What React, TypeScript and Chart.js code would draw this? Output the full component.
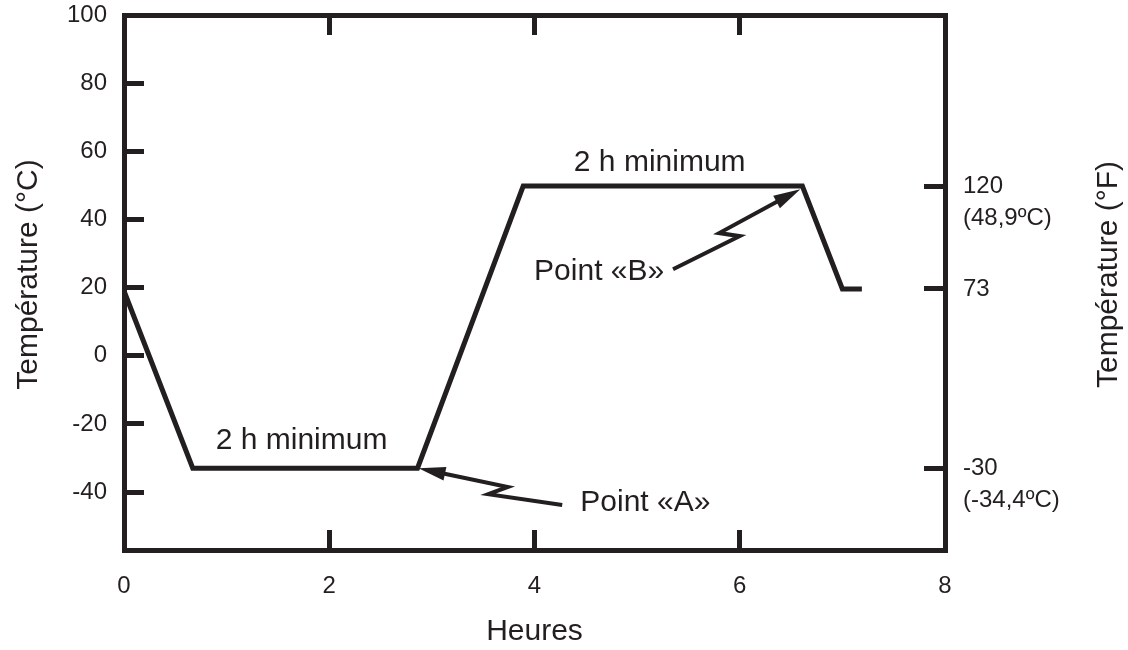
import React, { useEffect, useRef } from "react";
import { Chart, registerables } from "chart.js";

Chart.register(...registerables);

// ---- data ----
const hours = [0, 0.67, 2.86, 3.89, 6.61, 7.0, 7.19];
const tempC = [19, -33, -33, 49.8, 49.8, 19.6, 19.6];

const bottomTicks = [0, 2, 4, 6, 8];
const topTicks = [2, 4, 6];
const leftTicks = [-40, -20, 0, 20, 40, 60, 80, 100];
const rightTickValues = [49.8, 19.6, -33];
const rightTickLabels = [["", "120", "(48,9ºC)"], ["73"], ["", "-30", "(-34,4ºC)"]];

const noteTexts = ["2 h minimum", "2 h minimum", "Point «B»", "Point «A»"];
const noteX = [5.22, 1.73, 4.63, 5.08];
const noteY = [56.6, -25.0, 24.6, -43.1];

const arrowAX = [4.27, 3.55, 3.74, 2.87];
const arrowAY = [-43.8, -40.6, -38.5, -33.0];
const arrowBX = [5.35, 6.0, 5.8, 6.59];
const arrowBY = [25.4, 35.1, 36.0, 48.9];

const xTitle = "Heures";
const yLeftTitle = "Température (°C)";
const yRightTitle = "Température (°F)";

const INK = "#231f20";
const FAMILY = '"Liberation Sans", Arial, sans-serif';

const zeroPad = (s: any) => {
  s.paddingTop = 0;
  s.paddingBottom = 0;
  s.paddingLeft = 0;
  s.paddingRight = 0;
};

const overlayPlugin = {
  id: "overlay",
  afterDraw(chart: any) {
    const { ctx, scales } = chart;
    const x = scales.x;
    const y = scales.y;
    ctx.save();
    ctx.fillStyle = INK;
    ctx.strokeStyle = INK;
    ctx.font = `30px ${FAMILY}`;
    ctx.textAlign = "center";
    ctx.textBaseline = "middle";
    noteTexts.forEach((t, i) => {
      ctx.fillText(t, x.getPixelForValue(noteX[i]), y.getPixelForValue(noteY[i]));
    });

    const drawArrow = (xs: number[], ys: number[]) => {
      const px = xs.map((v) => x.getPixelForValue(v));
      const py = ys.map((v) => y.getPixelForValue(v));
      const n = px.length;
      const dx = px[n - 1] - px[n - 2];
      const dy = py[n - 1] - py[n - 2];
      const len = Math.hypot(dx, dy);
      const ux = dx / len;
      const uy = dy / len;
      const headLen = 27;
      const headW = 7;
      ctx.lineWidth = 4;
      ctx.lineJoin = "miter";
      ctx.lineCap = "butt";
      ctx.beginPath();
      ctx.moveTo(px[0], py[0]);
      for (let i = 1; i < n - 1; i++) ctx.lineTo(px[i], py[i]);
      ctx.lineTo(px[n - 1] - ux * (headLen - 4), py[n - 1] - uy * (headLen - 4));
      ctx.stroke();
      const bx = px[n - 1] - ux * headLen;
      const by = py[n - 1] - uy * headLen;
      ctx.beginPath();
      ctx.moveTo(px[n - 1], py[n - 1]);
      ctx.lineTo(bx - uy * headW, by + ux * headW);
      ctx.lineTo(bx + uy * headW, by - ux * headW);
      ctx.closePath();
      ctx.fill();
    };
    drawArrow(arrowAX, arrowAY);
    drawArrow(arrowBX, arrowBY);

    // axis titles for the two vertical axes, reading bottom to top
    const area = chart.chartArea;
    const midY = (area.top + area.bottom) / 2 - 8;
    ctx.font = `30px ${FAMILY}`;
    ctx.save();
    ctx.translate(29, midY);
    ctx.rotate(-Math.PI / 2);
    ctx.fillText(yLeftTitle, 0, 0);
    ctx.restore();
    ctx.save();
    ctx.translate(chart.width - 19, midY);
    ctx.rotate(-Math.PI / 2);
    ctx.fillText(yRightTitle, 0, 0);
    ctx.restore();
    ctx.restore();
  },
};

export default function App() {
  const canvasRef = useRef<HTMLCanvasElement | null>(null);

  useEffect(() => {
    if (!canvasRef.current) return;
    const tickFont = { family: FAMILY, size: 24 };
    const chart = new Chart(canvasRef.current, {
      type: "line",
      data: {
        datasets: [
          {
            data: hours.map((h, i) => ({ x: h, y: tempC[i] })),
            borderColor: INK,
            borderWidth: 5,
            pointRadius: 0,
            borderJoinStyle: "miter",
            borderCapStyle: "butt",
            tension: 0,
            fill: false,
          },
        ],
      },
      options: {
        animation: false,
        responsive: true,
        maintainAspectRatio: false,
        events: [],
        layout: { padding: 0 },
        plugins: { legend: { display: false }, tooltip: { enabled: false } },
        scales: {
          x: {
            type: "linear",
            position: "bottom",
            min: 0,
            max: 8,
            afterBuildTicks: (s: any) => {
              s.ticks = bottomTicks.map((v) => ({ value: v }));
            },
            afterFit: (s: any) => {
              s.height = 100;
              zeroPad(s);
            },
            border: { display: true, color: INK, width: 5 },
            grid: { drawOnChartArea: false, drawTicks: true, tickLength: -20, tickWidth: 5, tickColor: INK },
            ticks: { color: INK, font: tickFont, padding: 42, autoSkip: false, maxRotation: 0 },
            title: { display: true, text: xTitle, color: INK, font: { family: FAMILY, size: 30 }, padding: { top: 0, bottom: 0 } },
          },
          x2: {
            type: "linear",
            position: "top",
            min: 0,
            max: 8,
            afterBuildTicks: (s: any) => {
              s.ticks = topTicks.map((v) => ({ value: v }));
            },
            afterFit: (s: any) => {
              s.height = 15;
              zeroPad(s);
            },
            border: { display: true, color: INK, width: 5 },
            grid: { drawOnChartArea: false, drawTicks: true, tickLength: -20, tickWidth: 5, tickColor: INK },
            ticks: { display: false },
          },
          y: {
            type: "linear",
            position: "left",
            min: -57,
            max: 100,
            afterBuildTicks: (s: any) => {
              s.ticks = leftTicks.map((v) => ({ value: v }));
            },
            afterFit: (s: any) => {
              s.width = 124;
              zeroPad(s);
            },
            border: { display: true, color: INK, width: 5 },
            grid: { drawOnChartArea: false, drawTicks: true, tickLength: -20, tickWidth: 5, tickColor: INK },
            ticks: { color: INK, font: tickFont, padding: 37, autoSkip: false },
            title: { display: false },
          },
          y2: {
            type: "linear",
            position: "right",
            min: -57,
            max: 100,
            afterBuildTicks: (s: any) => {
              s.ticks = rightTickValues.map((v) => ({ value: v }));
            },
            afterFit: (s: any) => {
              s.width = 183;
              zeroPad(s);
            },
            border: { display: true, color: INK, width: 5 },
            grid: { drawOnChartArea: false, drawTicks: true, tickLength: -21, tickWidth: 5, tickColor: INK },
            ticks: {
              color: INK,
              font: { family: FAMILY, size: 24, lineHeight: 1.35 },
              padding: 39,
              autoSkip: false,
              callback: (_v: any, i: number) => rightTickLabels[i],
            },
          },
        },
      } as any,
      plugins: [overlayPlugin],
    });
    return () => chart.destroy();
  }, []);

  return (
    <div style={{ position: "absolute", left: 0, top: 0, width: 1128, height: 650, background: "#fff" }}>
      <canvas ref={canvasRef} />
    </div>
  );
}
